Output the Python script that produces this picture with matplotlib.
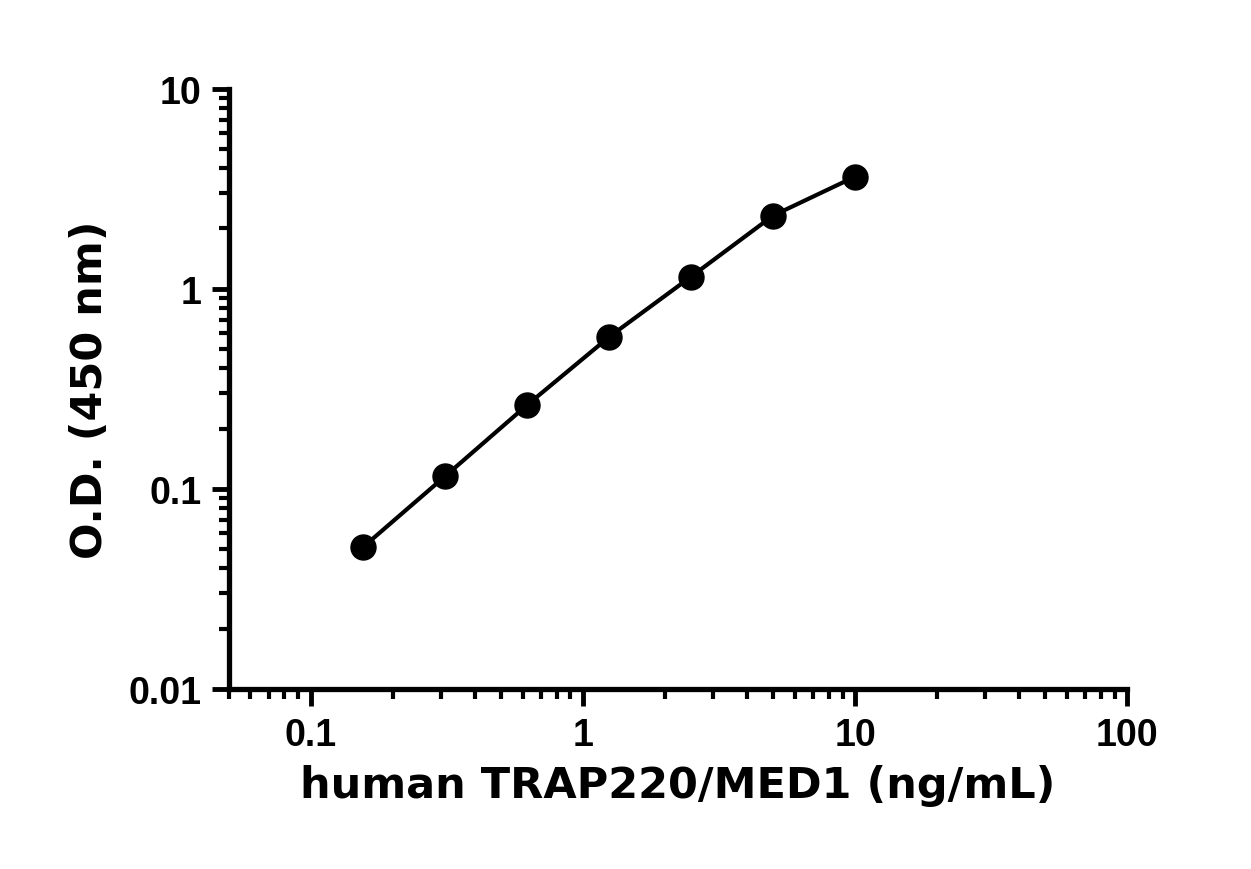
import matplotlib
matplotlib.use("Agg")
import matplotlib.pyplot as plt
from matplotlib.ticker import LogLocator, FixedLocator, FixedFormatter, NullFormatter

conc = [0.156, 0.3125, 0.625, 1.25, 2.5, 5, 10]
od = [0.0513, 0.116, 0.263, 0.575, 1.15, 2.32, 3.63]
xticks = [0.1, 1, 10, 100]
xticklabels = ["0.1", "1", "10", "100"]
yticks = [0.01, 0.1, 1, 10]
yticklabels = ["0.01", "0.1", "1", "10"]

fig = plt.figure(figsize=(12.51, 8.70), dpi=100)
ax = fig.add_axes([0.183, 0.207, 0.718, 0.690])
ax.plot(conc, od, color="black", lw=3, marker="o", ms=18)
ax.set_xscale("log"); ax.set_yscale("log")
ax.set_xlim(0.05, 100); ax.set_ylim(0.01, 10)
for s in ["top", "right"]:
    ax.spines[s].set_visible(False)
for s in ["left", "bottom"]:
    ax.spines[s].set_linewidth(3.8)
ax.xaxis.set_major_locator(FixedLocator(xticks))
ax.xaxis.set_major_formatter(FixedFormatter(xticklabels))
ax.yaxis.set_major_locator(FixedLocator(yticks))
ax.yaxis.set_major_formatter(FixedFormatter(yticklabels))
ax.xaxis.set_minor_locator(LogLocator(base=10, subs=range(2, 10)))
ax.yaxis.set_minor_locator(LogLocator(base=10, subs=range(2, 10)))
ax.xaxis.set_minor_formatter(NullFormatter()); ax.yaxis.set_minor_formatter(NullFormatter())
ax.tick_params(which="major", length=12, width=3.5, labelsize=27, direction="out", pad=8)
ax.tick_params(which="minor", length=7, width=3, direction="out")
for lab in ax.get_xticklabels() + ax.get_yticklabels():
    lab.set_fontweight("bold"); lab.set_family("Liberation Sans")
ax.set_xlabel("human TRAP220/MED1 (ng/mL)", fontsize=31, fontweight="bold", labelpad=8)
ax.set_ylabel("O.D. (450 nm)", fontsize=31, fontweight="bold", labelpad=12)
fig.savefig("out.png", dpi=100)
